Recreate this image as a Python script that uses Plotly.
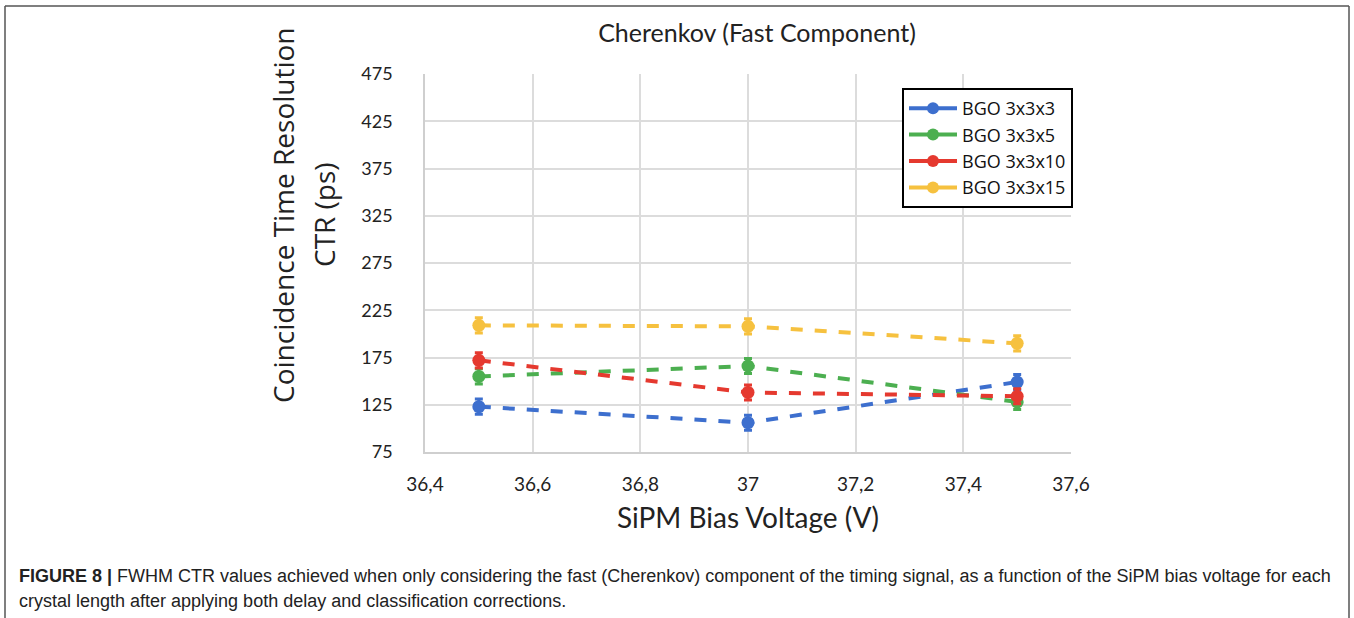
import plotly.graph_objects as go

voltages = [36.5, 37.0, 37.5]
series_names = ["BGO 3x3x3", "BGO 3x3x5", "BGO 3x3x10", "BGO 3x3x15"]
ctr_3 = [123, 106, 149]
ctr_5 = [155, 166, 128]
ctr_10 = [172, 138, 134]
ctr_15 = [209, 208, 190]
err_3 = [8, 8, 8]
err_5 = [8, 8, 8]
err_10 = [8, 8, 8]
err_15 = [8, 8, 8]
colors = ["#3D6FCE", "#4CAF50", "#E5392F", "#F6C13F"]
x_ticks = [36.4, 36.6, 36.8, 37.0, 37.2, 37.4, 37.6]
x_tick_labels = ["36,4", "36,6", "36,8", "37", "37,2", "37,4", "37,6"]
y_ticks = [75, 125, 175, 225, 275, 325, 375, 425, 475]

W, H = 1354, 618
L, R, T, B = 425, 283, 74, 166
pw, ph = W - L - R, H - T - B

def px(xp):
    return (xp - L) / pw

def py(yp):
    return (H - B - yp) / ph

fig = go.Figure()
all_vals = [ctr_3, ctr_5, ctr_10, ctr_15]
all_err = [err_3, err_5, err_10, err_15]
for name, vals, errs, col in zip(series_names, all_vals, all_err, colors):
    fig.add_trace(go.Scatter(
        x=voltages, y=vals, mode="lines+markers", name=name,
        line=dict(color=col, width=4, dash="dash"),
        marker=dict(color=col, size=13),
        error_y=dict(type="data", array=errs, color=col, thickness=3, width=4),
        showlegend=False,
    ))
for name, col in zip(series_names, colors):
    fig.add_trace(go.Scatter(
        x=[None], y=[None], mode="lines+markers", name=name,
        line=dict(color=col, width=4),
        marker=dict(color=col, size=12),
        showlegend=True,
    ))

lab_font = "Lato, 'Open Sans', sans-serif"
fig.update_layout(
    width=W, height=H,
    margin=dict(l=L, r=R, t=T, b=B),
    paper_bgcolor="white", plot_bgcolor="white",
    font=dict(family=lab_font, color="#222"),
    title=dict(text="Cherenkov (Fast Component)", x=px(757), xref="paper",
               xanchor="center", y=1 - 33 / H, yanchor="middle",
               font=dict(size=25, family=lab_font, color="#222")),
    xaxis=dict(range=[36.4, 37.6], tickvals=x_ticks, ticktext=x_tick_labels,
               showgrid=True, gridcolor="#dcdcdc", gridwidth=1.5,
               showline=True, linecolor="#cfcfcf", linewidth=1.5,
               zeroline=False, ticks="", ticklabelstandoff=14,
               tickfont=dict(size=19, family=lab_font, color="#222"),
               title=dict(text="SiPM Bias Voltage (V)", standoff=15,
                          font=dict(size=28, family=lab_font, color="#222"))),
    yaxis=dict(range=[75, 475], tickvals=y_ticks,
               showgrid=True, gridcolor="#dcdcdc", gridwidth=1.5,
               showline=True, linecolor="#cfcfcf", linewidth=1.5,
               zeroline=False, ticks="", ticklabelstandoff=27,
               tickfont=dict(size=18, family=lab_font, color="#222")),
    legend=dict(x=px(902), y=py(88), xanchor="left", yanchor="top",
                bgcolor="white", bordercolor="black", borderwidth=2,
                font=dict(size=18, family="'Open Sans', sans-serif", color="#111"),
                itemwidth=48, tracegroupgap=0),
)

# rotated y-axis title (two lines)
fig.add_annotation(text="Coincidence Time Resolution", xref="paper", yref="paper",
                   x=px(283), y=py(215), textangle=-90, showarrow=False,
                   xanchor="center", yanchor="middle",
                   font=dict(size=28, family="'Open Sans', sans-serif", color="#222"))
fig.add_annotation(text="CTR (ps)", xref="paper", yref="paper",
                   x=px(324), y=py(215), textangle=-90, showarrow=False,
                   xanchor="center", yanchor="middle",
                   font=dict(size=28, family="'Open Sans', sans-serif", color="#222"))

cap_font = "'Liberation Sans', Arial, sans-serif"
fig.add_annotation(text="<b>FIGURE 8 |</b> FWHM CTR values achieved when only considering the fast (Cherenkov) component of the timing signal, as a function of the SiPM bias voltage for each",
                   xref="paper", yref="paper", x=px(17), y=py(576), xanchor="left", yanchor="middle",
                   showarrow=False, align="left", font=dict(size=18, family=cap_font, color="#222"))
fig.add_annotation(text="crystal length after applying both delay and classification corrections.",
                   xref="paper", yref="paper", x=px(17), y=py(601), xanchor="left", yanchor="middle",
                   showarrow=False, align="left", font=dict(size=18, family=cap_font, color="#222"))

# outer frame
frame = dict(color="#555", width=1.5)
fig.add_shape(type="line", xref="paper", yref="paper", x0=px(5), x1=px(1349), y0=py(6), y1=py(6), line=frame)
fig.add_shape(type="line", xref="paper", yref="paper", x0=px(5), x1=px(5), y0=py(6), y1=py(620), line=frame)
fig.add_shape(type="line", xref="paper", yref="paper", x0=px(1349), x1=px(1349), y0=py(6), y1=py(620), line=frame)

fig.write_html("out.html", config={"displayModeBar": False},
               post_script="document.body.style.margin='0px';")
